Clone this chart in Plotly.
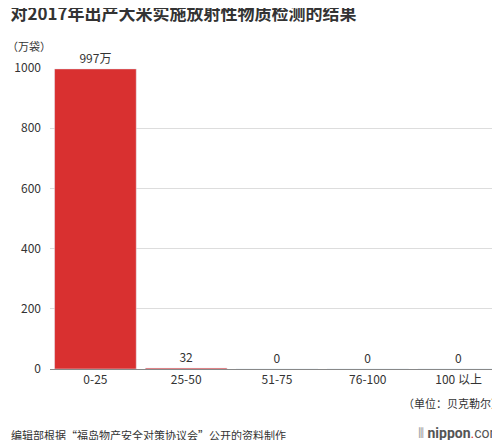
import plotly.graph_objects as go

categories = ['0-25', '25-50', '51-75', '76-100', '100 以上']
values = [997, 3.2, 0, 0, 0]
labels = ['997万', '32', '0', '0', '0']

RED = '#d93030'
FONT = 'Noto Sans CJK SC, sans-serif'

fig = go.Figure()
fig.add_trace(go.Bar(
    x=categories, y=values,
    marker=dict(color=RED),
    text=labels, textposition='outside', cliponaxis=False,
    textfont=dict(size=12, color='#333'),
    width=0.9,
))

fig.update_layout(
    width=500, height=440,
    font=dict(family=FONT, color='#333'),
    paper_bgcolor='white', plot_bgcolor='white',
    margin=dict(l=42, r=4, t=60, b=79),
    showlegend=False,
    bargap=0.1,
    xaxis=dict(showline=True, linecolor='#888', ticks='', tickfont=dict(size=12)),
    yaxis=dict(range=[0, 1000], dtick=200, showgrid=True, gridcolor='#ddd',
               zeroline=False, tickfont=dict(size=12), ticklabelstandoff=8),
    title=dict(text='<b>对2017年出产大米实施放射性物质检测的结果</b>',
               x=0.005, xanchor='left', y=0.999, yanchor='top',
               font=dict(size=17, color='#333')),
)
fig.add_annotation(text='（万袋）', xref='paper', yref='paper', x=-0.1, y=1.04,
                   xanchor='left', yanchor='bottom', showarrow=False, font=dict(size=11))
fig.add_annotation(text='（单位：贝克勒尔）', xref='paper', yref='paper', x=1, y=-0.08,
                   xanchor='right', yanchor='top', showarrow=False, font=dict(size=11))
fig.add_annotation(text='编辑部根据“福岛物产安全对策协议会”公开的资料制作', xref='paper', yref='paper',
                   x=-0.09, y=-0.186, xanchor='left', yanchor='top', showarrow=False,
                   font=dict(size=11))
fig.add_annotation(text='<span style="color:#999">⦀ </span><b>nippon</b><span style="color:#d93030">.</span>com',
                   xref='paper', yref='paper', x=1, y=-0.18, xanchor='right', yanchor='top',
                   showarrow=False, font=dict(size=14, color='#555', family='Roboto'))

fig.write_html('out.html')
